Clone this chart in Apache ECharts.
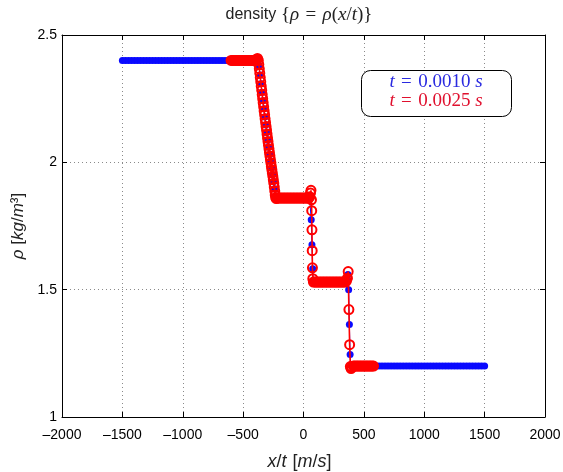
<!DOCTYPE html>
<html>
<head>
<meta charset="utf-8">
<script src="https://cdn.jsdelivr.net/npm/echarts@6/dist/echarts.min.js"></script>
<style>
html,body{margin:0;padding:0;background:#fff;}
#chart{width:563px;height:472px;}
</style>
</head>
<body>
<div id="chart"></div>
<script>
// ---- data ----
const blueX = [-1500,-1475,-1450,-1425,-1400,-1375,-1350,-1325,-1300,-1275,-1250,-1225,-1200,-1175,-1150,-1125,-1100,-1075,-1050,-1025,-1000,-975,-950,-925,-900,-875,-850,-825,-800,-775,-750,-725,-700,-675,-650,-625,-600,-575,-550,-525,-500,-475,-450,-425,-400,-385,
  -376,-368,-360,-352,-344,-336,-328,-320,-312,-304,-296,-288,-280,-272,-264,-256,-248,-240,-232,-224,
  -200,-175,-150,-125,-100,-75,-50,-25,0,25,50,
  58,64,70,76,82,
  100,125,150,175,200,225,250,275,300,325,350,
  362,368,374,380,386,392,
  400,425,450,475,500,525,550,575,600,625,650,675,700,725,750,775,800,825,850,875,900,925,950,975,1000,1025,1050,1075,1100,1125,1150,1175,1200,1225,1250,1275,1300,1325,1350,1375,1400,1425,1450,1475,1500];
const blueY = [2.4,2.4,2.4,2.4,2.4,2.4,2.4,2.4,2.4,2.4,2.4,2.4,2.4,2.4,2.4,2.4,2.4,2.4,2.4,2.4,2.4,2.4,2.4,2.4,2.4,2.4,2.4,2.4,2.4,2.4,2.4,2.4,2.4,2.4,2.4,2.4,2.4,2.4,2.4,2.4,2.4,2.4,2.4,2.4,2.4,2.4,
  2.398,2.377,2.343,2.309,2.275,2.242,2.210,2.178,2.147,2.117,2.087,2.059,2.031,2.004,1.978,1.951,1.925,1.896,1.868,1.860,
  1.86,1.86,1.86,1.86,1.86,1.86,1.86,1.86,1.86,1.86,1.86,
  1.865,1.775,1.676,1.582,1.535,
  1.53,1.53,1.53,1.53,1.53,1.53,1.53,1.53,1.53,1.53,1.53,
  1.535,1.56,1.50,1.363,1.245,1.205,
  1.2,1.2,1.2,1.2,1.2,1.2,1.2,1.2,1.2,1.2,1.2,1.2,1.2,1.2,1.2,1.2,1.2,1.2,1.2,1.2,1.2,1.2,1.2,1.2,1.2,1.2,1.2,1.2,1.2,1.2,1.2,1.2,1.2,1.2,1.2,1.2,1.2,1.2,1.2,1.2,1.2,1.2,1.2,1.2,1.2];

const redX = [-600,-588,-576,-564,-552,-540,-528,-516,-504,-492,-480,-468,-456,-444,-432,-420,-408,-396,-388,-381,
  -374,-370,-366,-362,-358,-354,-350,-346,-342,-338,-334,-330,-326,-322,-318,-314,-310,-306,-302,-298,-294,-290,-286,-282,-278,-274,-270,-266,-262,-258,-254,-250,-246,-242,-238,-234,-230,-226,
  -216,-204,-192,-180,-168,-156,-144,-132,-120,-108,-96,-84,-72,-60,-48,-36,-24,-12,0,12,24,36,44,
  52,58,62,66,68,70,72,74,77,82,
  94,106,118,130,142,154,166,178,190,202,214,226,238,250,262,274,286,298,310,322,334,346,
  356,364,370,376,382,388,394,400,
  412,424,436,448,460,472,484,496,508,520,532,544,556,568,580];
const redY = [2.4,2.4,2.4,2.4,2.4,2.4,2.4,2.4,2.4,2.4,2.4,2.4,2.4,2.4,2.4,2.4,2.4,2.4,2.405,2.408,
  2.400,2.384,2.367,2.350,2.333,2.316,2.299,2.283,2.266,2.250,2.234,2.218,2.202,2.187,2.171,2.156,2.141,2.126,2.111,2.096,2.082,2.067,2.053,2.039,2.025,2.011,1.998,1.984,1.971,1.958,1.945,1.932,1.918,1.903,1.887,1.872,1.862,1.858,
  1.86,1.86,1.86,1.86,1.86,1.86,1.86,1.86,1.86,1.86,1.86,1.86,1.86,1.86,1.86,1.86,1.86,1.86,1.86,1.86,1.86,1.86,1.86,
  1.865,1.88,1.89,1.853,1.81,1.735,1.653,1.586,1.543,1.53,
  1.53,1.53,1.53,1.53,1.53,1.53,1.53,1.53,1.53,1.53,1.53,1.53,1.53,1.53,1.53,1.53,1.53,1.53,1.53,1.53,1.53,1.53,
  1.535,1.545,1.571,1.422,1.284,1.198,1.19,1.195,
  1.2,1.2,1.2,1.2,1.2,1.2,1.2,1.2,1.2,1.2,1.2,1.2,1.2,1.2,1.2];

const xTicks = { min: -2000, max: 2000, step: 500 };
const yTicks = { min: 1, max: 2.5, step: 0.5 };
const legendLabels = ['0.0010', '0.0025'];

// ---- chart ----
const zip = (xs, ys) => xs.map((x, i) => [x, ys[i]]);
const SANS = '"Liberation Sans", Arial, Helvetica, sans-serif';
const SERIF = '"Liberation Serif", "DejaVu Serif", serif';
const SP = '\u2004';
const fmtX = v => (v < 0 ? '\u2013' + Math.abs(v) : String(v));

const chart = echarts.init(document.getElementById('chart'), null, { renderer: 'canvas' });
const gridLine = { show: true, lineStyle: { color: '#8a8a8a', type: [1, 3], width: 1 } };
const tick = { show: true, inside: true, length: 5, lineStyle: { color: '#000' } };
const axLine = { show: true, onZero: false, lineStyle: { color: '#000', width: 1 } };

chart.setOption({
  animation: false,
  backgroundColor: '#fff',
  grid: { left: 62, right: 18, top: 35, bottom: 55, containLabel: false, outerBoundsMode: 'none' },
  xAxis: [{
    type: 'value', min: xTicks.min, max: xTicks.max, interval: xTicks.step,
    axisLine: axLine, axisTick: tick, splitLine: gridLine,
    axisLabel: { color: '#000', fontSize: 14, fontFamily: SANS, margin: 11, formatter: fmtX },
    name: '{i|x}/{i|t}' + SP + '[{i|m}/{i|s}]', nameLocation: 'middle', nameGap: 36,
    nameTextStyle: { color: '#222', fontSize: 18, fontFamily: SANS, padding: [0, 8, 0, 0],
      rich: { i: { fontStyle: 'italic', fontSize: 18, fontFamily: SANS, color: '#222' } } }
  }, {
    type: 'value', position: 'top', min: xTicks.min, max: xTicks.max, interval: xTicks.step,
    axisLine: axLine, axisTick: tick, splitLine: { show: false }, axisLabel: { show: false }
  }],
  yAxis: [{
    type: 'value', min: yTicks.min, max: yTicks.max, interval: yTicks.step,
    axisLine: axLine, axisTick: tick, splitLine: gridLine,
    axisLabel: { color: '#000', fontSize: 14, fontFamily: SANS, margin: 5 },
    name: '{i|\u03c1} [{i|kg}/{i|m}\u00b3]', nameLocation: 'middle', nameGap: 22,
    nameTextStyle: { color: '#222', fontSize: 17, fontFamily: SANS,
      rich: { i: { fontStyle: 'italic', fontSize: 17, fontFamily: SANS, color: '#222' } } }
  }, {
    type: 'value', position: 'right', min: yTicks.min, max: yTicks.max, interval: yTicks.step,
    axisLine: axLine, axisTick: tick, splitLine: { show: false }, axisLabel: { show: false }
  }],
  graphic: [
    {
      type: 'text', x: 299, y: 15, z: 10,
      style: {
        text: '{s|density} {{mi|\u03c1}' + SP + '=' + SP + '{mi|\u03c1}({mi|x}/{mi|t})}',
        align: 'center', verticalAlign: 'middle',
        font: '19px ' + SERIF, fill: '#222',
        rich: {
          s: { fontSize: 16, fontFamily: SANS, fill: '#222' },
          mi: { fontStyle: 'italic', fontSize: 19, fontFamily: SERIF, fill: '#222' }
        }
      }
    },
    {
      type: 'rect', z: 10,
      shape: { x: 361.5, y: 70.5, width: 150, height: 46, r: 9 },
      style: { fill: '#fff', stroke: '#000', lineWidth: 1 }
    },
    {
      type: 'text', z: 11, x: 436, y: 82,
      style: {
        text: '{i|t}' + SP + '=' + SP + legendLabels[0] + ' {i|s}', align: 'center', verticalAlign: 'middle',
        font: '19px ' + SERIF, fill: '#2a2ae0',
        rich: { i: { fontStyle: 'italic', fontSize: 19, fontFamily: SERIF, fill: '#2a2ae0' } }
      }
    },
    {
      type: 'text', z: 11, x: 436, y: 101,
      style: {
        text: '{i|t}' + SP + '=' + SP + legendLabels[1] + ' {i|s}', align: 'center', verticalAlign: 'middle',
        font: '19px ' + SERIF, fill: '#e0102e',
        rich: { i: { fontStyle: 'italic', fontSize: 19, fontFamily: SERIF, fill: '#e0102e' } }
      }
    }
  ],
  series: [
    {
      name: 't = 0.0010 s', type: 'line', data: zip(blueX, blueY), z: 2,
      symbol: 'circle', symbolSize: 7, showAllSymbol: true,
      itemStyle: { color: '#0a0aff' },
      lineStyle: { color: '#0a0aff', width: 1 }
    },
    {
      name: 't = 0.0025 s', type: 'line', data: zip(redX, redY), z: 3,
      symbol: 'circle', symbolSize: 9, showAllSymbol: true,
      itemStyle: { color: 'rgba(0,0,0,0)', borderColor: '#ff0000', borderWidth: 2 },
      lineStyle: { color: '#ff0000', width: 1.6 }
    }
  ]
});
</script>
</body>
</html>
